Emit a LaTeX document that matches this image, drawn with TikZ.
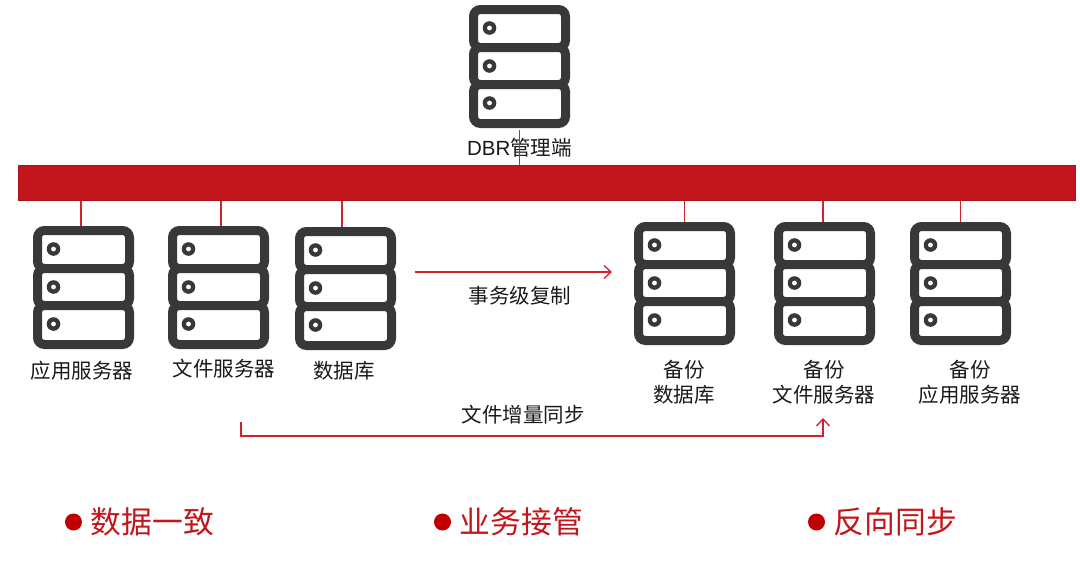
\documentclass[tikz,border=0pt]{standalone}
\usepackage{fontspec}
\setmainfont{Liberation Sans}
\newfontfamily\cjk{Noto Sans CJK SC}
\usetikzlibrary{arrows.meta}
\definecolor{barred}{HTML}{C3161C}
\definecolor{linkred}{HTML}{D2232A}
\definecolor{dotred}{HTML}{C00000}
\definecolor{rackgray}{HTML}{383838}
\tikzset{>={Straight Barb[length=7pt,width=13pt]}}
\tikzset{
    rack/.style={minimum width=101pt, minimum height=123pt, inner sep=0pt,
        path picture={
            \foreach \top/\bot in {-57/-19, -19/18, 18/57}
                \draw[rackgray, line width=9pt, rounded corners=7pt, fill=white] (-46,\top) rectangle (46,\bot);
            \foreach \ring in {-38.5, -0.5, 36.5} {
                \fill[rackgray] (-30,\ring) circle (6.8pt);
                \fill[white] (-30,\ring) circle (2.4pt);
            }
        }},
    caption/.style={font=\cjk\fontsize{20.5}{25}\selectfont, inner sep=0pt, align=center, text=black!90},
    point/.style={font=\cjk\fontsize{30.8}{36}\selectfont, inner sep=0pt, text=barred},
    dot/.style={circle, fill=dotred, inner sep=0pt, minimum size=17pt},
    link/.style={linkred, line width=1.3pt},
}

\begin{document}
\begin{tikzpicture}[x=1pt, y=-1pt]
    \useasboundingbox (0,0) rectangle (1080,562);
    % bus
    \node[draw=barred!85!black, fill=barred, line width=0.8pt, minimum width=1057pt, minimum height=35pt, inner sep=0pt] (bar) at (547,183) {};
    % servers
    \foreach \name/\x/\y in {dbr/519.5/66.5, app/83.5/287.5, file/218.5/287.5, db/345.5/288.5, bakdb/684.5/283.5, bakfile/824.5/283.5, bakapp/960.5/283.5}
        \node[rack] (\name) at (\x,\y) {};
    % captions
    \node[caption] (dbrcap) at (519.5,148) {{\rmfamily DBR}管理端};
    \node[caption] (appcap) at (82,371) {应用服务器};
    \node[caption] (filecap) at (224,369) {文件服务器};
    \node[caption] (dbcap) at (344,371) {数据库};
    \node[caption] (bakdbcap) at (684,382) {备份\\数据库};
    \node[caption] (bakfilecap) at (824,382) {备份\\文件服务器};
    \node[caption] (bakappcap) at (970,382) {备份\\应用服务器};
    \node[caption] (copycap) at (520,296) {事务级复制};
    \node[caption] (synccap) at (523,415) {文件增量同步};
    % uplinks to the bus
    \draw[link] (dbr.south) ++(0,2) -- (dbr.south |- bar.north);
    \draw[link] ([xshift=-2.5pt]app.north) -- ([xshift=-2.5pt]app.north |- bar.south);
    \draw[link] ([xshift=2.5pt]file.north) -- ([xshift=2.5pt]file.north |- bar.south);
    \draw[link] ([xshift=-3.5pt]db.north) -- ([xshift=-3.5pt]db.north |- bar.south);
    \draw[link] (bakdb.north) -- (bakdb.north |- bar.south);
    \draw[link] ([xshift=-1.5pt]bakfile.north) -- ([xshift=-1.5pt]bakfile.north |- bar.south);
    \draw[link] (bakapp.north) -- (bakapp.north |- bar.south);
    % replication arrows
    \coordinate (copyfrom) at (415,272);
    \coordinate (copyto) at (612,272);
    \coordinate (syncfrom) at (241,422);
    \coordinate (syncto) at (823,418);
    \draw[link, ->] (copyfrom) -- (copyto);
    \draw[link, ->] (syncfrom) -- (syncfrom |- 0,436) -- (syncto |- 0,436) -- (syncto);
    % bullet points
    \node[dot] (dota) at (73.5,522) {};
    \node[dot] (dotb) at (442.5,522) {};
    \node[dot] (dotc) at (816.5,522) {};
    \node[point, anchor=west] (pointa) at (90.5,522) {数据一致};
    \node[point, anchor=west] (pointb) at (459.5,522) {业务接管};
    \node[point, anchor=west] (pointc) at (833.5,522) {反向同步};
\end{tikzpicture}
\end{document}
